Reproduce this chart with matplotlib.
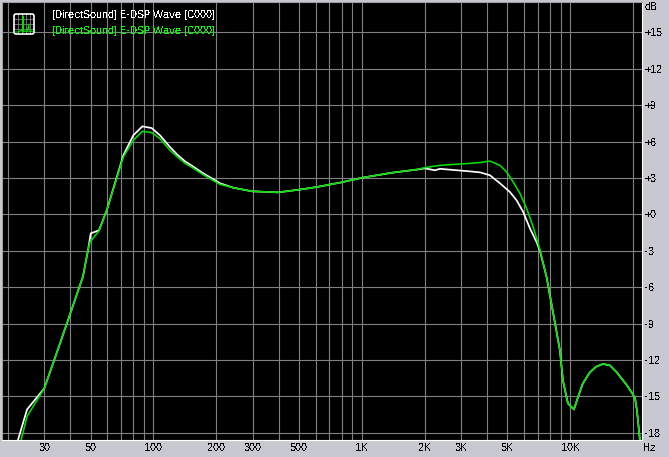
import matplotlib
matplotlib.use("Agg")
import matplotlib.pyplot as plt
from matplotlib.patches import FancyBboxPatch
from matplotlib.ticker import NullFormatter

plt.rcParams['font.family'] = ['Liberation Sans', 'DejaVu Sans']
plt.rcParams['text.antialiased'] = False
plt.rcParams['text.hinting'] = 'native'
plt.rcParams['text.hinting_factor'] = 1

# Frequency response values (Hz, dB)
white_hz = [22.4, 24.8, 30, 36.1, 46, 48.8, 50.1, 54.9, 59.8, 71.8, 80.2, 88.6, 98.2, 107.7, 120.2, 130.3, 141.9,
            153.3, 173.7, 208.9, 241, 296.5, 396, 505, 608, 786, 1013, 1411, 1840, 2010, 2244, 2372, 3304, 3689,
            4120, 4600, 5140, 5534, 5950, 6408, 6900, 7155, 7703, 8289, 8926, 9226, 9750, 9970, 10420,
            10890, 11500, 12420, 13280, 14350, 15500, 16750, 18710, 20430, 20900, 21600]
white_db = [-18.63, -16.08, -14.34, -10.39, -5.11, -2.80, -1.57, -1.32, 0.33, 4.86, 6.51, 7.25, 7.11, 6.51,
            5.55, 4.92, 4.37, 4.00, 3.38, 2.56, 2.20, 1.90, 1.81, 2.04, 2.25, 2.61, 3.03, 3.44, 3.69, 3.79, 3.63, 3.75,
            3.54, 3.46, 3.22, 2.56, 1.84, 1.15, 0.19, -1.15, -2.30, -3.00, -5.17, -8.16, -11.21, -13.69,
            -15.58, -15.75, -16.08, -15.09, -13.93, -13.03, -12.57, -12.33, -12.45, -13.03, -14.10,
            -15.09, -16.16, -18.63]
green_hz = [23.2, 24.8, 30, 36.1, 46, 48.8, 49.7, 54.9, 59.8, 71.8, 80.2, 88.6, 98.2, 107.7, 120.2, 130.3, 141.9,
            153.3, 173.7, 208.9, 241, 296.5, 396, 505, 608, 786, 1013, 1411, 1840, 2010, 2372, 3304, 3689, 4120,
            4600, 4955, 5329, 5738, 6178, 6645, 7155, 7703, 8289, 8926, 9226, 9750, 9970, 10420,
            10890, 11500, 12420, 13280, 14350, 15500, 16750, 18710, 20430, 20900, 21600]
green_db = [-18.63, -16.65, -14.34, -10.39, -5.11, -2.80, -2.28, -1.36, 0.33, 4.72, 6.10, 6.84, 6.74, 6.24,
            5.28, 4.74, 4.20, 3.87, 3.26, 2.47, 2.20, 1.90, 1.81, 2.04, 2.25, 2.61, 3.03, 3.44, 3.69, 3.85, 4.04, 4.20,
            4.27, 4.39, 4.04, 3.49, 2.66, 1.73, 0.49, -1.05, -2.90, -5.17, -8.16, -11.21, -13.69,
            -15.58, -15.75, -16.08, -15.09, -13.93, -13.03, -12.57, -12.33, -12.45, -13.03, -14.10,
            -15.09, -16.16, -18.63]

grid_hz = [20, 30, 40, 50, 60, 70, 80, 90, 100, 200, 300, 400, 500, 600, 700, 800, 900,
           1000, 2000, 3000, 4000, 5000, 6000, 7000, 8000, 9000, 10000, 20000]
x_ticks = [30, 50, 100, 200, 300, 500, 1000, 2000, 3000, 5000, 10000]
x_labels = ['30', '50', '100', '200', '300', '500', '1K', '2K', '3K', '5K', '10K']
y_ticks = [15, 12, 9, 6, 3, 0, -3, -6, -9, -12, -15, -18]
y_labels = ['+15', '+12', '+9', '+6', '+3', '+0', '-3', '-6', '-9', '-12', '-15', '-18']
series_name = '[DirectSound] E-DSP Wave [C000]'

FS = 7.92
W, H = 669, 457
fig = plt.figure(figsize=(W / 100, H / 100), dpi=100, facecolor='#c8c8d0')
ax = fig.add_axes([2 / W, 1 - 440 / H, 640 / W, 438 / H], facecolor='black')
ax.set_xscale('log')
ax.set_xlim(18.8, 22100)
ax.set_ylim(-18.6, 17.5)

ax.set_xticks(grid_hz, minor=True)
ax.set_xticks(x_ticks)
ax.set_xticklabels(x_labels, fontsize=FS)
ax.tick_params(axis='x', which='both', length=0, pad=2)
ax.xaxis.set_minor_formatter(NullFormatter())
ax.set_yticks(y_ticks)
ax.set_yticklabels(y_labels, fontsize=FS)
ax.yaxis.tick_right()
ax.tick_params(axis='y', length=0, pad=2)
ax.grid(True, which='both', axis='x', color='#808080', lw=0.8)
ax.grid(True, which='major', axis='y', color='#808080', lw=0.8)
ax.set_axisbelow(True)

for side, col in [('left', '#a0a0a0'), ('top', '#a0a0a0'), ('right', 'white'), ('bottom', 'white')]:
    ax.spines[side].set_color(col)
    ax.spines[side].set_linewidth(0.8)

ax.plot(white_hz, white_db, color='white', lw=1.25, solid_joinstyle='round')
ax.plot(green_hz, green_db, color='#00e000', lw=1.15, solid_joinstyle='round')

ax.text(50 / 640, 1 - 13 / 438, series_name, transform=ax.transAxes, color='white',
        fontsize=FS, va='center', ha='left')
ax.text(50 / 640, 1 - 29 / 438, series_name, transform=ax.transAxes, color='#00ff00',
        fontsize=FS, va='center', ha='left')

fig.text(645 / W, 1 - 7 / H, 'dB', fontsize=FS, color='black', va='center', ha='left')
fig.text(643 / W, 1 - 448 / H, 'Hz', fontsize=FS, color='black', va='center', ha='left')

# Small application icon in the top-left corner
icon = fig.add_axes([14 / W, 1 - 34 / H, 20 / W, 20 / H], facecolor='black')
icon.set_xlim(0, 20)
icon.set_ylim(0, 20)
icon.set_xticks([4, 8, 12, 16])
icon.set_yticks([5, 10, 15])
icon.tick_params(length=0, labelbottom=False, labelleft=False)
icon.grid(True, color='#808080', lw=0.6)
icon.set_axisbelow(True)
icon.plot([1, 5, 7, 9, 9, 9, 11, 13, 15, 15, 15, 17, 19],
          [2, 2, 4, 2, 18, 2, 3, 2, 10, 2, 2, 3, 2], color='#00e000', lw=0.8)
for s in icon.spines.values():
    s.set_visible(False)
icon.add_patch(FancyBboxPatch((0, 0), 20, 20, boxstyle='round,pad=0,rounding_size=2',
                              fc='none', ec='white', lw=1.2, clip_on=False))

fig.savefig('out.png', dpi=100, facecolor=fig.get_facecolor())
